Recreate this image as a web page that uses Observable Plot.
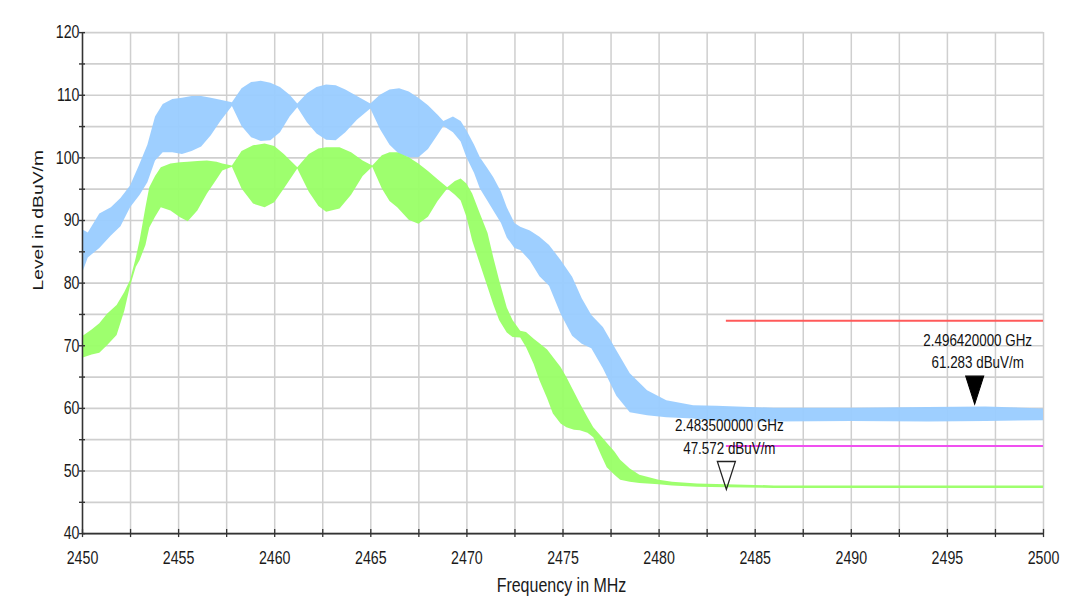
<!DOCTYPE html>
<html>
<head>
<meta charset="utf-8">
<script src="https://cdn.jsdelivr.net/npm/d3@7"></script>
<script src="https://cdn.jsdelivr.net/npm/@observablehq/plot@0.6"></script>
<style>
  html, body { margin: 0; padding: 0; background: #fff; overflow: hidden; }
  #wrap { position: relative; width: 1065px; height: 601px; }
  #frame { position: absolute; left: 7px; top: 8px; width: 1200px; height: 800px;
           border-left: 1.5px solid #c8c8c8; border-top: 1.5px solid #c8c8c8; pointer-events: none; }
  #chart { position: absolute; left: 0; top: 0; }
</style>
</head>
<body>
<div id="wrap"><div id="frame"></div><div id="chart"></div></div>
<script>
// ---- axis ticks ----
const xTicks = [2450, 2452.5, 2455, 2457.5, 2460, 2462.5, 2465, 2467.5, 2470, 2472.5, 2475, 2477.5, 2480, 2482.5, 2485, 2487.5, 2490, 2492.5, 2495, 2497.5, 2500];
const xLabels = [2450, 2455, 2460, 2465, 2470, 2475, 2480, 2485, 2490, 2495, 2500];
const yTicks = [40, 45, 50, 55, 60, 65, 70, 75, 80, 85, 90, 95, 100, 105, 110, 115, 120];
const yLabels = [40, 50, 60, 70, 80, 90, 100, 110, 120];
const xTitle = "Frequency in MHz";
const yTitle = "Level in dBuV/m";

// ---- peak trace (blue): envelope of the trace ----
const blueFreq = [2450.0, 2450.3, 2450.9, 2451.5, 2452.0, 2452.5, 2453.0, 2453.4, 2453.8, 2454.2, 2454.7, 2455.2, 2455.7, 2456.2, 2456.7, 2457.2, 2457.8, 2458.3, 2458.8, 2459.3, 2459.8, 2460.3, 2460.8, 2461.2, 2461.7, 2462.2, 2462.7, 2463.2, 2463.7, 2464.3, 2465.0, 2465.5, 2466.0, 2466.5, 2467.0, 2467.5, 2468.0, 2468.5, 2468.8, 2469.3, 2469.7, 2470.0, 2470.4, 2470.7, 2471.1, 2471.4, 2471.8, 2472.1, 2472.5, 2472.8, 2473.3, 2473.8, 2474.3, 2474.9, 2475.5, 2476.0, 2476.5, 2477.1, 2477.8, 2478.5, 2479.4, 2480.4, 2481.8, 2483.0, 2486.0, 2490.0, 2494.0, 2497.0, 2500.0];
const blueHi   = [88.5, 88.0, 91.0, 92.0, 93.5, 95.5, 99.0, 102.0, 106.5, 108.5, 109.3, 109.5, 109.8, 109.8, 109.5, 109.2, 108.8, 111.0, 112.0, 112.2, 111.9, 111.2, 110.0, 108.6, 110.2, 111.2, 111.6, 111.5, 110.8, 109.8, 108.6, 110.0, 110.8, 111.0, 110.5, 109.5, 108.3, 106.8, 105.8, 106.5, 105.8, 104.3, 102.0, 100.0, 98.2, 96.8, 94.5, 92.0, 89.5, 88.9, 88.3, 87.3, 86.0, 83.6, 80.9, 77.5, 74.8, 72.9, 69.2, 65.5, 62.8, 61.2, 60.4, 60.3, 60.0, 60.0, 60.1, 60.2, 59.9];
const blueLo   = [81.5, 84.0, 85.5, 87.5, 89.0, 92.0, 94.0, 96.0, 99.5, 100.8, 100.8, 100.5, 101.0, 101.7, 103.5, 105.8, 108.2, 105.0, 103.2, 102.6, 102.7, 104.0, 106.5, 108.0, 105.6, 103.8, 102.8, 102.7, 104.0, 106.0, 107.8, 104.5, 102.0, 100.5, 100.0, 100.0, 101.3, 103.6, 105.0, 104.0, 102.5, 100.0, 97.5, 95.0, 93.0, 91.5, 89.5, 87.2, 85.5, 85.2, 83.5, 81.0, 79.5, 75.0, 71.5, 70.2, 69.5, 66.3, 61.9, 59.3, 58.8, 58.5, 58.3, 57.9, 57.8, 57.9, 57.8, 57.9, 58.0];

// ---- average trace (green): envelope of the trace ----
const greenFreq = [2450.0, 2450.5, 2450.9, 2451.3, 2451.8, 2452.2, 2452.5, 2452.8, 2453.0, 2453.3, 2453.5, 2453.8, 2454.1, 2454.6, 2455.1, 2455.5, 2456.0, 2456.5, 2457.0, 2457.3, 2457.8, 2458.3, 2458.9, 2459.5, 2460.0, 2460.5, 2461.2, 2461.8, 2462.3, 2462.7, 2463.4, 2464.0, 2464.6, 2465.1, 2465.6, 2466.0, 2466.4, 2467.0, 2467.5, 2468.0, 2468.5, 2469.0, 2469.4, 2469.7, 2470.0, 2470.3, 2470.7, 2471.1, 2471.4, 2471.7, 2472.1, 2472.4, 2472.8, 2473.1, 2473.5, 2473.8, 2474.2, 2474.5, 2474.9, 2475.2, 2475.6, 2475.9, 2476.3, 2476.6, 2477.0, 2477.3, 2477.7, 2478.0, 2478.5, 2479.0, 2480.0, 2480.7, 2482.0, 2483.5, 2486.0, 2490.0, 2495.0, 2500.0];
const greenHi   = [71.4, 72.5, 73.5, 75.0, 76.4, 78.5, 80.4, 84.0, 86.8, 92.0, 95.2, 97.0, 98.4, 99.0, 99.2, 99.3, 99.4, 99.5, 99.3, 99.0, 98.7, 101.0, 101.9, 102.2, 101.8, 100.5, 98.4, 100.5, 101.4, 101.6, 101.6, 100.8, 99.5, 98.7, 100.3, 100.8, 100.8, 100.0, 99.0, 97.8, 96.5, 95.2, 96.2, 96.6, 95.8, 94.2, 91.0, 87.9, 84.0, 80.4, 76.0, 74.0, 72.3, 72.1, 71.0, 70.3, 69.3, 68.1, 66.5, 64.9, 62.5, 60.7, 58.5, 56.9, 55.5, 54.4, 53.0, 51.7, 50.3, 49.3, 48.5, 48.2, 47.9, 47.8, 47.6, 47.6, 47.6, 47.6];
const greenLo   = [68.0, 68.5, 68.8, 70.0, 71.6, 75.5, 79.5, 82.5, 83.6, 86.0, 88.8, 90.5, 92.0, 91.5, 90.4, 89.8, 91.5, 94.2, 96.5, 97.9, 98.5, 95.0, 92.6, 92.0, 92.8, 95.0, 98.2, 94.5, 92.2, 91.3, 91.8, 94.0, 97.0, 98.5, 95.0, 93.0, 92.0, 90.0, 89.4, 90.5, 93.0, 95.0, 94.0, 93.1, 90.5, 86.7, 83.0, 79.3, 76.5, 74.0, 72.0, 71.3, 71.2, 69.7, 67.0, 64.4, 61.5, 59.1, 57.5, 56.9, 56.5, 56.4, 56.0, 55.3, 52.5, 50.5, 49.3, 48.5, 48.2, 48.0, 47.8, 47.6, 47.4, 47.3, 47.2, 47.2, 47.2, 47.2];

// ---- limit lines ----
const limitStart = 2483.5, limitEnd = 2500;
const peakLimit = 74;   // red
const avgLimit = 54;    // magenta

// ---- markers ----
const markerFreq  = [2496.42, 2483.5];
const markerLevel = [61.283, 47.572];
const markerText  = ["2.496420000 GHz\n61.283 dBuV/m", "2.483500000 GHz\n47.572 dBuV/m"];

const blue = blueFreq.map((f, i) => ({f, hi: blueHi[i], lo: blueLo[i]}));
const green = greenFreq.map((f, i) => ({f, hi: greenHi[i], lo: greenLo[i]}));
const markers = markerFreq.map((f, i) => ({f, v: markerLevel[i], t: markerText[i]}));
const limits = [{y: peakLimit, c: "#ff5a5a"}, {y: avgLimit, c: "#f050f0"}].map(d => ({...d, x1: limitStart, x2: limitEnd}));

// the original picture is stretched vertically; draw at a reduced height and stretch the SVG
const W = 1065, H_OUT = 601, K = 1.27, H = Math.round(H_OUT / K);
const k = H_OUT / H;

const downTri = {
  draw(ctx) { ctx.moveTo(0, 0); ctx.lineTo(-9, -22); ctx.lineTo(9, -22); ctx.closePath(); }
};

const font = "'Liberation Sans', Arial, Helvetica, sans-serif";

const chart = Plot.plot({
  width: W, height: H,
  marginLeft: 82, marginRight: 22, marginTop: 32 / k, marginBottom: H - 533 / k,
  style: {fontFamily: font, fontSize: "14px", color: "#1a1a1a", background: "white", overflow: "visible"},
  x: {domain: [2450, 2500]},
  y: {domain: [40, 120]},
  marks: [
    Plot.gridX(xTicks, {stroke: "#cfcfcf", strokeOpacity: 1, strokeWidth: 1.5}),
    Plot.gridY(yTicks, {stroke: "#cfcfcf", strokeOpacity: 1, strokeWidth: 1.3}),
    Plot.ruleY(limits, {y: "y", x1: "x1", x2: "x2", stroke: "c", strokeWidth: 1.6}),
    Plot.areaY(blue, {x: "f", y1: "lo", y2: "hi", fill: "#99ccff", fillOpacity: 0.95}),
    Plot.areaY(green, {x: "f", y1: "lo", y2: "hi", fill: "#99ff66", fillOpacity: 0.95}),
    Plot.ruleX([2450], {stroke: "#333", strokeWidth: 1.5}),
    Plot.ruleY([40], {stroke: "#333", strokeWidth: 1.2}),
    Plot.ruleX(xTicks, {x: d => d, y1: 40, y2: 40, insetTop: -3.2, insetBottom: -3.2, stroke: "#333", strokeWidth: 1.3}),
    Plot.ruleY(yTicks, {y: d => d, x1: 2450, x2: 2450, insetLeft: -3, insetRight: -3, stroke: "#333", strokeWidth: 1.1}),
    Plot.axisX(xLabels, {tickSize: 0, tickPadding: 13.5, label: null, fontSize: 14.2, tickFormat: d => String(d)}),
    Plot.axisY(yLabels, {tickSize: 0, tickPadding: 3, label: null, fontSize: 14.2, tickFormat: d => String(d)}),
    Plot.text([xTitle], {text: d => d, frameAnchor: "bottom", dx: -1.5, dy: 46, fontSize: 16, fill: "#1a1a1a"}),
    Plot.text([yTitle], {text: d => d, frameAnchor: "left", dx: -44, dy: 5.8, rotate: -90, fontSize: 15.2, fill: "#1a1a1a"}),
    Plot.dot(markers.slice(0, 1), {x: "f", y: "v", symbol: downTri, fill: "#000", stroke: "#000", strokeWidth: 1, dy: 3}),
    Plot.dot(markers.slice(1), {x: "f", y: "v", symbol: downTri, fill: "none", stroke: "#222", strokeWidth: 1.2, dy: 2.5}),
    Plot.text(markers, {x: "f", y: "v", text: "t", dx: 3, dy: -40, fontSize: 13.4, lineHeight: 1.3, fill: "#111"})
  ]
});
chart.setAttribute("preserveAspectRatio", "none");
chart.setAttribute("width", W);
chart.setAttribute("height", H_OUT);
chart.style.width = W + "px";
chart.style.height = H_OUT + "px";
chart.style.maxWidth = "none";
document.getElementById("chart").appendChild(chart);
</script>
</body>
</html>
